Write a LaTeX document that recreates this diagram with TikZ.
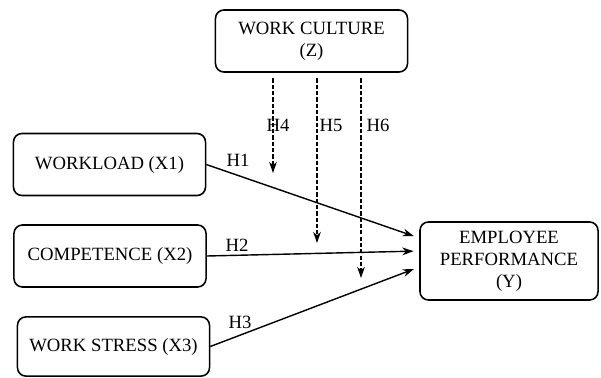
\documentclass[tikz,border=0pt]{standalone}
\usepackage{fontspec}
\setmainfont{Liberation Serif}
\usetikzlibrary{arrows.meta,positioning,calc}

\begin{document}
\begin{tikzpicture}[x=0.025cm, y=-0.025cm,
      var/.style={draw, rounded corners=6pt, line width=1.1pt,
                  minimum width=4.8cm, minimum height=1.55cm,
                  font=\fontsize{13.3}{15.5}\selectfont, align=center},
      arr/.style={-{Stealth[length=8pt,width=5.5pt]}, line width=1pt},
      darr/.style={arr, dash pattern=on 3pt off 1.5pt},
      lbl/.style={font=\fontsize{13.3}{15.5}\selectfont, inner sep=1pt}
  ]
    \useasboundingbox (0,0) rectangle (601,377);
    \node[var] (cult) at (311.5,41) {WORK CULTURE\\(Z)};
    \node[var] (x1) at (109.5,164.5) {WORKLOAD (X1)};
    \node[var] (x2) at (110,256) {COMPETENCE (X2)};
    \node[var, minimum height=1.48cm] (x3) at (113.5,346.5) {WORK STRESS (X3)};
    \node[var, minimum width=4.45cm, minimum height=1.95cm] (perf) at (509,261)
        {EMPLOYEE\\PERFORMANCE\\(Y)};
    % end points of the moderating arrows
    \coordinate (m4) at (273,173);
    \coordinate (m5) at (317,243);
    \coordinate (m6) at (361,278);
    \draw[darr, shorten <=4pt] (cult.south -| m4) -- (m4);
    \draw[darr, shorten <=4pt] (cult.south -| m5) -- (m5);
    \draw[darr, shorten <=4pt] (cult.south -| m6) -- (m6);
    \node[lbl] (h4) at (278,125) {H4};
    \node[lbl] (h5) at (331,125) {H5};
    \node[lbl] (h6) at (378,125) {H6};
    % direct effects
    \draw[arr, shorten >=4pt] (x1.east) -- ($(perf.west)+(0,-23)$);
    \draw[arr, shorten >=4pt] (x2.east) -- ($(perf.west)+(0,-10)$);
    \draw[arr, shorten >=4pt] (x3.east) -- ($(perf.west)+(0,6)$);
    \node[lbl] (h1) at (238,160) {H1};
    \node[lbl] (h2) at (237,245) {H2};
    \node[lbl] (h3) at (240,322) {H3};
  \end{tikzpicture}
\end{document}
